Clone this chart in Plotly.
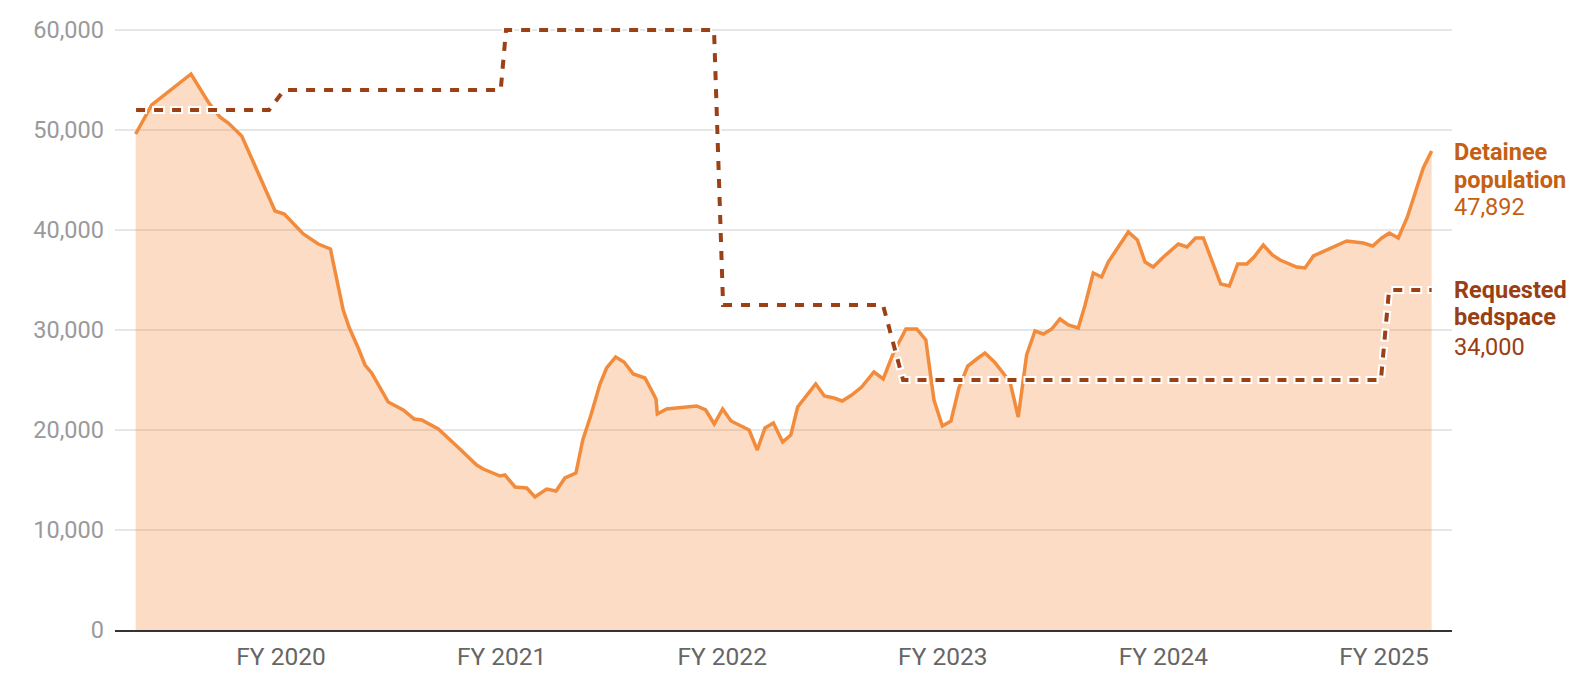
import plotly.graph_objects as go

# Detainee population (decimal-year position, people in detention)
pop_t = [2019.341, 2019.414, 2019.592, 2019.670, 2019.723, 2019.761, 2019.822, 2019.913, 2019.973, 2020.015,
         2020.101, 2020.169, 2020.224, 2020.282, 2020.310, 2020.350, 2020.381, 2020.411, 2020.486, 2020.554,
         2020.604, 2020.638, 2020.713, 2020.811, 2020.887, 2020.917, 2020.993, 2021.015, 2021.061, 2021.114,
         2021.151, 2021.204, 2021.247, 2021.287, 2021.337, 2021.368, 2021.405, 2021.446, 2021.476, 2021.517,
         2021.555, 2021.597, 2021.650, 2021.700, 2021.706, 2021.748, 2021.884, 2021.925, 2021.964, 2022.002,
         2022.040, 2022.122, 2022.159, 2022.194, 2022.232, 2022.274, 2022.311, 2022.342, 2022.424, 2022.463,
         2022.507, 2022.544, 2022.587, 2022.632, 2022.688, 2022.730, 2022.776, 2022.833, 2022.882, 2022.923,
         2022.960, 2022.998, 2023.037, 2023.073, 2023.113, 2023.154, 2023.191, 2023.234, 2023.274, 2023.305,
         2023.342, 2023.380, 2023.418, 2023.456, 2023.494, 2023.531, 2023.569, 2023.614, 2023.645, 2023.682,
         2023.720, 2023.750, 2023.841, 2023.882, 2023.917, 2023.954, 2024.000, 2024.068, 2024.107, 2024.146,
         2024.181, 2024.222, 2024.260, 2024.299, 2024.337, 2024.378, 2024.411, 2024.453, 2024.494, 2024.529,
         2024.604, 2024.642, 2024.680, 2024.831, 2024.906, 2024.949, 2024.990, 2025.024, 2025.065, 2025.106,
         2025.178, 2025.216]
pop_v = [49600, 52500, 55600, 52800, 51300, 50700, 49400, 45000, 41900, 41600,
         39600, 38600, 38100, 32000, 30200, 28200, 26500, 25700, 22800, 22000,
         21100, 21000, 20100, 18100, 16500, 16100, 15400, 15500, 14300, 14200,
         13300, 14100, 13900, 15200, 15700, 19000, 21500, 24600, 26200, 27300,
         26800, 25600, 25200, 23100, 21600, 22100, 22400, 22000, 20600, 22100,
         20900, 20000, 18000, 20200, 20700, 18800, 19500, 22300, 24600, 23400,
         23200, 22900, 23500, 24300, 25800, 25100, 27700, 30100, 30100, 29000,
         23000, 20400, 20900, 24200, 26400, 27100, 27700, 26800, 25700, 24800,
         21300, 27500, 29900, 29600, 30100, 31100, 30500, 30200, 32500, 35700,
         35300, 36800, 39800, 39000, 36800, 36300, 37300, 38600, 38300, 39200,
         39200, 36900, 34600, 34400, 36600, 36600, 37300, 38500, 37500, 37000,
         36300, 36200, 37400, 38900, 38700, 38400, 39200, 39700, 39200, 41300,
         46200, 47892]

# Requested bedspace (funded capacity)
bed_t = [2019.343, 2019.946, 2020.014, 2020.996, 2021.020, 2021.963, 2022.004, 2022.729, 2022.820,
         2024.986, 2025.023, 2025.216]
bed_v = [52000, 52000, 54000, 54000, 60000, 60000, 32500, 32500, 25000, 25000, 34000, 34000]

fy_vals = [2020, 2021, 2022, 2023, 2024, 2025]
fy_text = ["FY 2020", "FY 2021", "FY 2022", "FY 2023", "FY 2024", "FY 2025"]
y_ticks = [0, 10000, 20000, 30000, 40000, 50000, 60000]

ORANGE = "#F28B3B"
FILL = "rgba(245,138,60,0.30)"
BROWN = "#9C4016"
POP_LABEL = "#C45F14"
BED_LABEL = "#9A3E13"

fig = go.Figure()
fig.add_trace(go.Scatter(x=pop_t, y=pop_v, mode="lines", fill="tozeroy", fillcolor=FILL,
                         line=dict(color=ORANGE, width=3.5), cliponaxis=False, hoverinfo="skip"))
# white halo under dashes
fig.add_trace(go.Scatter(x=bed_t, y=bed_v, mode="lines",
                         line=dict(color="white", width=8, dash="11px,5px,2px,0px"),
                         cliponaxis=False, hoverinfo="skip"))
fig.add_trace(go.Scatter(x=bed_t, y=bed_v, mode="lines",
                         line=dict(color=BROWN, width=4, dash="9px,9px"),
                         cliponaxis=False, hoverinfo="skip"))

label_lines = [
    ("<b>Detainee</b>", 0.7909, POP_LABEL),
    ("<b>population</b>", 0.7438, POP_LABEL),
    (f"{pop_v[-1]:,}", 0.6987, POP_LABEL),
    ("<b>Requested</b>", 0.5615, BED_LABEL),
    ("<b>bedspace</b>", 0.5174, BED_LABEL),
    (f"{bed_v[-1]:,}", 0.4678, BED_LABEL),
]
for txt, yp, col in label_lines:
    fig.add_annotation(xref="paper", yref="paper", x=1, y=yp, xanchor="left", yanchor="middle",
                       xshift=0, align="left", showarrow=False, text=txt,
                       font=dict(family="Roboto", size=23.5, color=col))

fig.update_layout(
    width=1586, height=684,
    margin=dict(l=115, r=134, t=25, b=54, autoexpand=False),
    paper_bgcolor="white", plot_bgcolor="white",
    showlegend=False,
    font=dict(family="Roboto"),
    xaxis=dict(range=[2019.2475, 2025.3083], tickvals=fy_vals, ticktext=fy_text, automargin=False,
               showgrid=False, zeroline=False, showline=True, linecolor="#333333", linewidth=2,
               ticks="", ticklabelstandoff=4,
               tickfont=dict(family="Roboto", size=24.5, color="#666666")),
    yaxis=dict(range=[0, 60500], tickvals=y_ticks, tickformat=",", automargin=False,
               showgrid=True, gridcolor="#e6e6e6", gridwidth=1.5, zeroline=False,
               ticks="", ticklabelstandoff=10,
               tickfont=dict(family="Roboto", size=23.5, color="#9a9a9a")),
)

fig.write_html("out.html", config={"displayModeBar": False},
               post_script="document.body.style.margin='0px';")
